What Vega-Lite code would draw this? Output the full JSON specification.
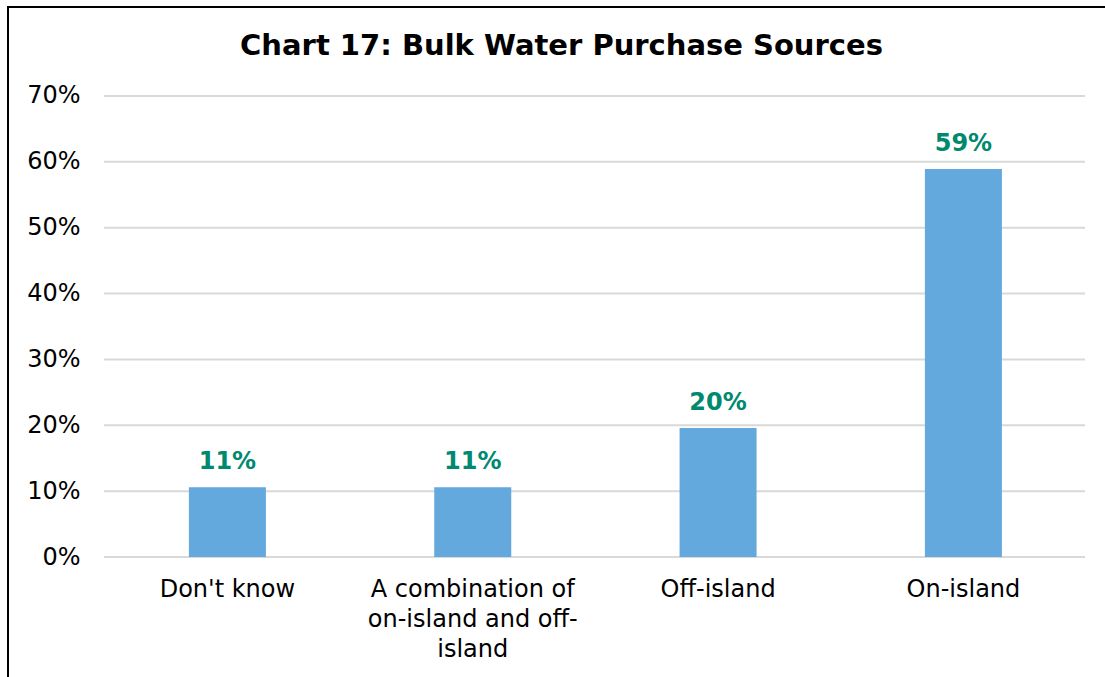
{
  "$schema": "https://vega.github.io/schema/vega-lite/v6.json",
  "autosize": {"type": "none"},
  "padding": {"left": 8, "top": 7, "right": 0, "bottom": 0},
  "width": 1097,
  "height": 670,
  "background": "white",
  "config": {
    "font": "DejaVu Sans",
    "view": {"stroke": "#000000", "strokeWidth": 2, "strokeDash": [1097, 1767, 670]}
  },
  "title": {
    "text": "Chart 17: Bulk Water Purchase Sources",
    "font": "DejaVu Sans",
    "fontSize": 29,
    "fontWeight": "bold",
    "color": "#000000",
    "frame": "group",
    "anchor": "middle",
    "baseline": "alphabetic",
    "offset": -77,
    "dx": 5
  },
  "datasets": {
    "bars": [
      {"source": "Don't know", "share": 0.106},
      {"source": "A combination of on-island and off-island", "share": 0.106},
      {"source": "Off-island", "share": 0.196},
      {"source": "On-island", "share": 0.589}
    ],
    "grid": [
      {"v": 0}, {"v": 0.1}, {"v": 0.2}, {"v": 0.3}, {"v": 0.4}, {"v": 0.5}, {"v": 0.6}, {"v": 0.7}
    ]
  },
  "resolve": {"scale": {"x": "independent"}},
  "layer": [
    {
      "data": {"name": "grid"},
      "mark": {"type": "rule", "color": "#D9D9D9", "strokeWidth": 2},
      "encoding": {
        "x": {"datum": 0, "type": "quantitative", "scale": {"domain": [-0.097859, 1.020387], "nice": false, "zero": false}, "axis": null},
        "x2": {"datum": 1},
        "y": {
          "field": "v",
          "type": "quantitative",
          "scale": {"domain": [-0.18221, 0.83514], "nice": false, "zero": false},
          "axis": {
            "orient": "left",
            "title": null,
            "offset": -96,
            "values": [0, 0.1, 0.2, 0.3, 0.4, 0.5, 0.6, 0.7],
            "format": ".0%",
            "grid": false,
            "domain": false,
            "ticks": false,
            "tickSize": 0,
            "labelPadding": 24,
            "labelFont": "DejaVu Sans",
            "labelFontSize": 24,
            "labelColor": "#000000"
          }
        }
      }
    },
    {
      "data": {"name": "bars"},
      "encoding": {
        "x": {
          "field": "source",
          "type": "nominal",
          "sort": null,
          "scale": {"paddingInner": 0.6861, "paddingOuter": 0.5788, "align": 0.637},
          "axis": {
            "orient": "bottom",
            "title": null,
            "offset": -120,
            "domain": false,
            "ticks": false,
            "tickSize": 0,
            "labelPadding": 20,
            "labelAngle": 0,
            "labelFont": "DejaVu Sans",
            "labelFontSize": 24,
            "labelColor": "#000000",
            "labelLineHeight": 30,
            "labelBaseline": "top",
            "labelLimit": 0,
            "labelExpr": "datum.label == 'A combination of on-island and off-island' ? ['A combination of', 'on-island and off-', 'island'] : datum.label"
          }
        },
        "y": {
          "field": "share",
          "type": "quantitative",
          "scale": {"domain": [-0.18221, 0.83514], "nice": false, "zero": false},
          "axis": {
            "orient": "left",
            "title": null,
            "offset": -96,
            "values": [0, 0.1, 0.2, 0.3, 0.4, 0.5, 0.6, 0.7],
            "format": ".0%",
            "grid": false,
            "domain": false,
            "ticks": false,
            "tickSize": 0,
            "labelPadding": 24,
            "labelFont": "DejaVu Sans",
            "labelFontSize": 24,
            "labelColor": "#000000"
          }
        }
      },
      "layer": [
        {
          "mark": {"type": "bar", "color": "#64A9DE"},
          "encoding": {"y2": {"datum": 0}}
        },
        {
          "mark": {"type": "text", "color": "#00896F", "font": "DejaVu Sans", "fontSize": 24, "fontWeight": "bold", "baseline": "alphabetic", "dy": -18},
          "encoding": {"text": {"field": "share", "type": "quantitative", "format": ".0%"}}
        }
      ]
    }
  ]
}
